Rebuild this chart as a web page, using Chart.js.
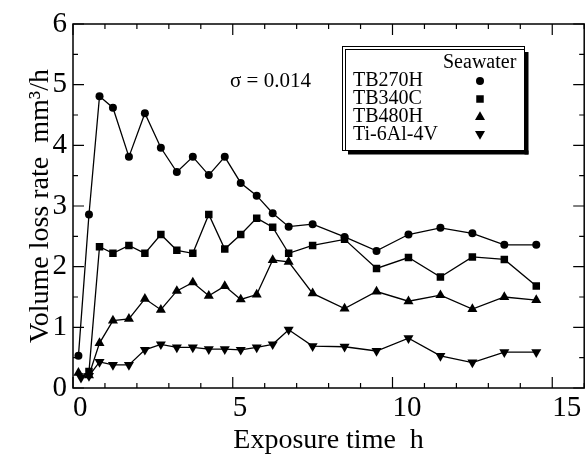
<!DOCTYPE html>
<html>
<head>
<meta charset="utf-8">
<script src="https://cdn.jsdelivr.net/npm/chart.js@4/dist/chart.umd.min.js"></script>
<style>
html,body{margin:0;padding:0;background:#fff;overflow:hidden;width:585px;height:455px;}
canvas{display:block;}
</style>
</head>
<body>
<canvas id="c" width="590" height="455"></canvas>
<script>
// ---- data ----
const timesA = [0.17,0.5,0.83,1.25,1.75,2.25,2.75,3.25,3.75,4.25,4.75,5.25,5.75,6.25,6.75,7.5,8.5,9.5,10.5,11.5,12.5,13.5,14.5];
const timesB = [0.5,0.83,1.25,1.75,2.25,2.75,3.25,3.75,4.25,4.75,5.25,5.75,6.25,6.75,7.5,8.5,9.5,10.5,11.5,12.5,13.5,14.5];
const timesD = [0.25,0.5,0.83,1.25,1.75,2.25,2.75,3.25,3.75,4.25,4.75,5.25,5.75,6.25,6.75,7.5,8.5,9.5,10.5,11.5,12.5,13.5,14.5];
const tb270h = [0.53,2.86,4.81,4.62,3.81,4.53,3.96,3.56,3.81,3.51,3.81,3.38,3.17,2.88,2.66,2.70,2.49,2.26,2.53,2.64,2.55,2.36,2.36];
const tb340c = [0.27,2.33,2.22,2.35,2.22,2.53,2.27,2.22,2.86,2.29,2.53,2.80,2.65,2.22,2.35,2.45,1.97,2.15,1.83,2.16,2.12,1.68];
const tb480h = [0.25,0.21,0.74,1.11,1.14,1.47,1.29,1.60,1.74,1.52,1.68,1.46,1.54,2.11,2.08,1.56,1.31,1.59,1.43,1.53,1.30,1.50,1.45];
const ti64   = [0.17,0.20,0.43,0.38,0.38,0.63,0.72,0.67,0.67,0.64,0.64,0.63,0.67,0.72,0.96,0.69,0.68,0.61,0.82,0.53,0.42,0.59,0.59];
const seriesNames = ['TB270H','TB340C','TB480H','Ti-6Al-4V'];
const legendHeader = 'Seawater';
const noteText = 'σ = 0.014';
const xTitle = 'Exposure time  h';
const yTitle = 'Volume loss rate  mm³/h';
const xMin = 0, xMax = 16, xMajor = 5, xMinor = 1;
const yMin = 0, yMax = 6, yMajor = 1, yMinor = 0.5;

function pts(xs, ys){ return ys.map((v,i)=>({x:xs[i], y:v})); }

const FONT = "'Liberation Serif', 'Times New Roman', serif";
Chart.defaults.font.family = FONT;
Chart.defaults.color = '#000';

const styles = [
  {pointStyle:'circle', radius:4, rotation:0},
  {pointStyle:'rect', radius:5.3, rotation:0},
  {pointStyle:'triangle', radius:5.8, rotation:0},
  {pointStyle:'triangle', radius:5.8, rotation:180}
];
const dataSets = [pts(timesA,tb270h), pts(timesB,tb340c), pts(timesA,tb480h), pts(timesD,ti64)];

function drawMarker(ctx, style, x, y){
  const r = style.radius;
  ctx.beginPath();
  if (style.pointStyle === 'circle') {
    ctx.arc(x, y, r, 0, Math.PI*2);
  } else if (style.pointStyle === 'rect') {
    const s = Math.SQRT1_2 * r;
    ctx.rect(x - s, y - s, 2*s, 2*s);
  } else {
    let rad = style.rotation * Math.PI/180;
    for (let k=0;k<3;k++){
      const px = x + Math.sin(rad)*r, py = y - Math.cos(rad)*r;
      if (k===0) ctx.moveTo(px,py); else ctx.lineTo(px,py);
      rad += 2*Math.PI/3;
    }
    ctx.closePath();
  }
  ctx.fillStyle = '#000';
  ctx.fill();
}

const framePlugin = {
  id: 'frame',
  afterDraw(chart){
    const {ctx, chartArea:a, scales:{x, y}} = chart;
    ctx.save();
    ctx.strokeStyle = '#000';
    ctx.lineWidth = 1.5;
    ctx.strokeRect(a.left, a.top, a.right - a.left, a.bottom - a.top);
    ctx.lineWidth = 1.2;
    ctx.beginPath();
    for (let v = xMin; v <= xMax + 1e-9; v += xMinor) {
      const px = x.getPixelForValue(v);
      const L = (Math.abs(v % xMajor) < 1e-9) ? 11 : 5;
      ctx.moveTo(px, a.bottom); ctx.lineTo(px, a.bottom - L);
      ctx.moveTo(px, a.top); ctx.lineTo(px, a.top + L);
    }
    for (let v = yMin; v <= yMax + 1e-9; v += yMinor) {
      const py = y.getPixelForValue(v);
      const L = (Math.abs(v % yMajor) < 1e-9) ? 11 : 5;
      ctx.moveTo(a.left, py); ctx.lineTo(a.left + L, py);
      ctx.moveTo(a.right, py); ctx.lineTo(a.right - L, py);
    }
    ctx.stroke();

    // sigma note
    ctx.fillStyle = '#000';
    ctx.font = '21px ' + FONT;
    ctx.textAlign = 'left';
    ctx.textBaseline = 'alphabetic';
    ctx.fillText(noteText, 230, 87);

    // legend box
    ctx.lineWidth = 1;
    ctx.fillStyle = '#000';
    ctx.fillRect(348, 150.5, 180.5, 4);
    ctx.fillRect(524.5, 52, 4, 102.5);
    ctx.fillStyle = '#fff';
    ctx.fillRect(342.5, 46.5, 182, 104);
    ctx.strokeRect(342.5, 46.5, 182, 104);
    ctx.strokeRect(345.5, 49.5, 179, 101);
    ctx.fillStyle = '#000';
    ctx.font = '20px ' + FONT;
    ctx.fillText(legendHeader, 443, 68);
    const baselines = [86, 104, 122, 140];
    const markerY = [81, 99, 117, 134];
    seriesNames.forEach((n, i) => {
      ctx.fillStyle = '#000';
      ctx.fillText(n, 353, baselines[i]);
      drawMarker(ctx, styles[i], 480, markerY[i]);
    });
    ctx.restore();
  }
};

new Chart(document.getElementById('c'), {
  type: 'line',
  data: {
    datasets: dataSets.map((d, i) => ({
      label: seriesNames[i],
      data: d,
      borderColor: '#000',
      backgroundColor: '#000',
      borderWidth: 1.3,
      pointStyle: styles[i].pointStyle,
      pointRadius: styles[i].radius,
      pointRotation: styles[i].rotation,
      pointBackgroundColor: '#000',
      pointBorderColor: '#000',
      pointBorderWidth: 0,
      tension: 0,
      fill: false,
      clip: 8
    }))
  },
  options: {
    responsive: false,
    animation: false,
    devicePixelRatio: 1,
    layout: {padding: {top: 24, right: 3, left: 0, bottom: 0}},
    plugins: {legend: {display: false}, tooltip: {enabled: false}},
    scales: {
      x: {
        type: 'linear', min: xMin, max: xMax,
        grid: {display: false, drawTicks: false},
        border: {display: false},
        ticks: {stepSize: xMajor, includeBounds: false, align: 'start', padding: 3,
                font: {size: 29}, color: '#000', maxRotation: 0, autoSkip: false},
        title: {display: true, text: xTitle, font: {size: 28}, color: '#000', padding: {top: 0, bottom: -2}},
        afterFit(s){ s.height = 67; }
      },
      y: {
        type: 'linear', min: yMin, max: yMax,
        grid: {display: false, drawTicks: false},
        border: {display: false},
        ticks: {stepSize: yMajor, padding: 6, font: {size: 29}, color: '#000'},
        title: {display: true, text: yTitle, font: {size: 28}, color: '#000', padding: {top: 24, bottom: 0}},
        afterFit(s){ s.width = 73; }
      }
    }
  },
  plugins: [framePlugin]
});
</script>
</body>
</html>
